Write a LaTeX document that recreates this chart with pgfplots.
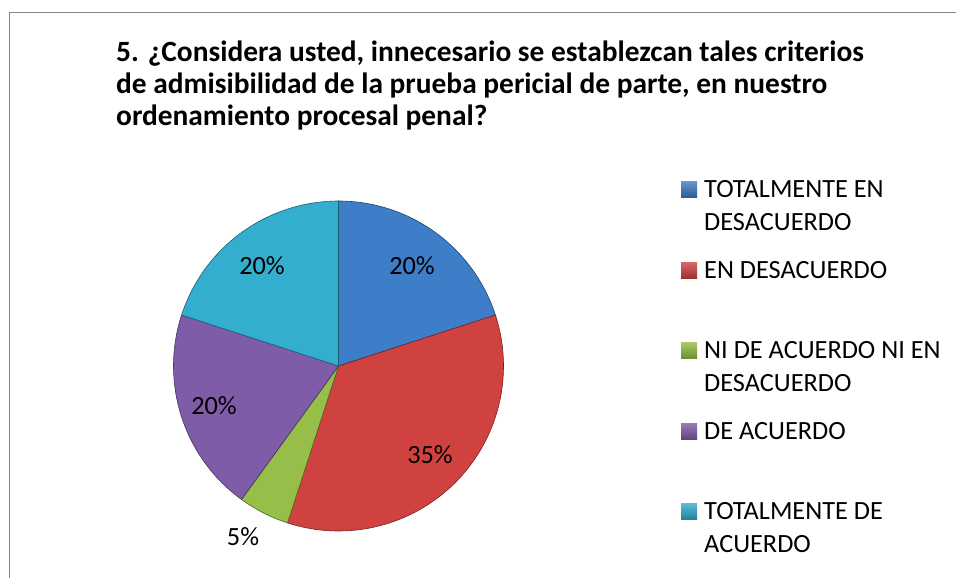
\documentclass[border=0pt]{standalone}
\usepackage{pgfplots}
\pgfplotsset{compat=1.18}
\usepackage{fontspec}
\setmainfont{Carlito}
\definecolor{cBlue}{RGB}{62,125,200}
\definecolor{cRed}{RGB}{208,66,64}
\definecolor{cGreen}{RGB}{150,190,72}
\definecolor{cPurple}{RGB}{126,92,168}
\definecolor{cCyan}{RGB}{52,174,206}
\definecolor{cFrame}{RGB}{134,134,134}
% data: percentages of each category (clockwise from 12 o'clock)
\def\pA{20}\def\pB{35}\def\pC{5}\def\pD{20}\def\pE{20}
\newcommand\lbl{\fontsize{26.3bp}{31bp}\selectfont}
\newcommand\ttl{\fontsize{29.4bp}{32bp}\selectfont\bfseries}
\newcommand\legbox[2]{\shade[top color=#1!80!white, bottom color=#1!75!black] (axis cs:681,#2-16) rectangle (axis cs:697,#2);}
\begin{document}
\begin{tikzpicture}
\useasboundingbox (0,0) rectangle (956bp,578bp);
\begin{axis}[at={(478bp,289bp)}, anchor=center, width=956bp, height=578bp,
  scale only axis, xmin=0, xmax=956, ymin=0, ymax=578, y dir=reverse,
  hide axis, clip=false]
% frame
\draw[cFrame, line width=1.5bp] (axis cs:9.5,578) -- (axis cs:9.5,12.5) -- (axis cs:956,12.5);
% slices
\addplot[fill=cBlue, draw=cBlue!55!black, line width=0.6bp, domain={90-3.6*(\pA)}:{90}, samples=60, variable=\t]
  ({338.5+165*cos(t)},{366-165*sin(t)}) -- (axis cs:338.5,366) -- cycle;
\addplot[fill=cRed, draw=cRed!55!black, line width=0.6bp, domain={90-3.6*(\pA+\pB)}:{90-3.6*\pA}, samples=90, variable=\t]
  ({338.5+165*cos(t)},{366-165*sin(t)}) -- (axis cs:338.5,366) -- cycle;
\addplot[fill=cGreen, draw=cGreen!55!black, line width=0.6bp, domain={90-3.6*(\pA+\pB+\pC)}:{90-3.6*(\pA+\pB)}, samples=20, variable=\t]
  ({338.5+165*cos(t)},{366-165*sin(t)}) -- (axis cs:338.5,366) -- cycle;
\addplot[fill=cPurple, draw=cPurple!55!black, line width=0.6bp, domain={90-3.6*(\pA+\pB+\pC+\pD)}:{90-3.6*(\pA+\pB+\pC)}, samples=60, variable=\t]
  ({338.5+165*cos(t)},{366-165*sin(t)}) -- (axis cs:338.5,366) -- cycle;
\addplot[fill=cCyan, draw=cCyan!55!black, line width=0.6bp, domain={90-3.6*(\pA+\pB+\pC+\pD+\pE)}:{90-3.6*(\pA+\pB+\pC+\pD)}, samples=60, variable=\t]
  ({338.5+165*cos(t)},{366-165*sin(t)}) -- (axis cs:338.5,366) -- cycle;
% data labels
\node[font=\lbl] at (axis cs:412,266) {20\%};
\node[font=\lbl] at (axis cs:430,455) {35\%};
\node[font=\lbl] at (axis cs:243,537) {5\%};
\node[font=\lbl] at (axis cs:214,406) {20\%};
\node[font=\lbl] at (axis cs:262,266) {20\%};
% title
\node[font=\ttl, anchor=base west, inner sep=0] at (axis cs:116,61.5) {5. ¿Considera usted, innecesario se establezcan tales criterios};
\node[font=\ttl, anchor=base west, inner sep=0] at (axis cs:116,93.3) {de admisibilidad de la prueba pericial de parte, en nuestro};
\node[font=\ttl, anchor=base west, inner sep=0] at (axis cs:116,125) {ordenamiento procesal penal?};
% legend
\legbox{cBlue}{197}
\legbox{cRed}{278}
\legbox{cGreen}{358}
\legbox{cPurple}{439}
\legbox{cCyan}{519}
\node[font=\lbl, anchor=base west, inner sep=0] at (axis cs:704,197) {TOTALMENTE EN};
\node[font=\lbl, anchor=base west, inner sep=0] at (axis cs:704,230) {DESACUERDO};
\node[font=\lbl, anchor=base west, inner sep=0] at (axis cs:704,278) {EN DESACUERDO};
\node[font=\lbl, anchor=base west, inner sep=0] at (axis cs:704,358) {NI DE ACUERDO NI EN};
\node[font=\lbl, anchor=base west, inner sep=0] at (axis cs:704,391) {DESACUERDO};
\node[font=\lbl, anchor=base west, inner sep=0] at (axis cs:704,439) {DE ACUERDO};
\node[font=\lbl, anchor=base west, inner sep=0] at (axis cs:704,519) {TOTALMENTE DE};
\node[font=\lbl, anchor=base west, inner sep=0] at (axis cs:704,552) {ACUERDO};
\end{axis}
\end{tikzpicture}
\end{document}
